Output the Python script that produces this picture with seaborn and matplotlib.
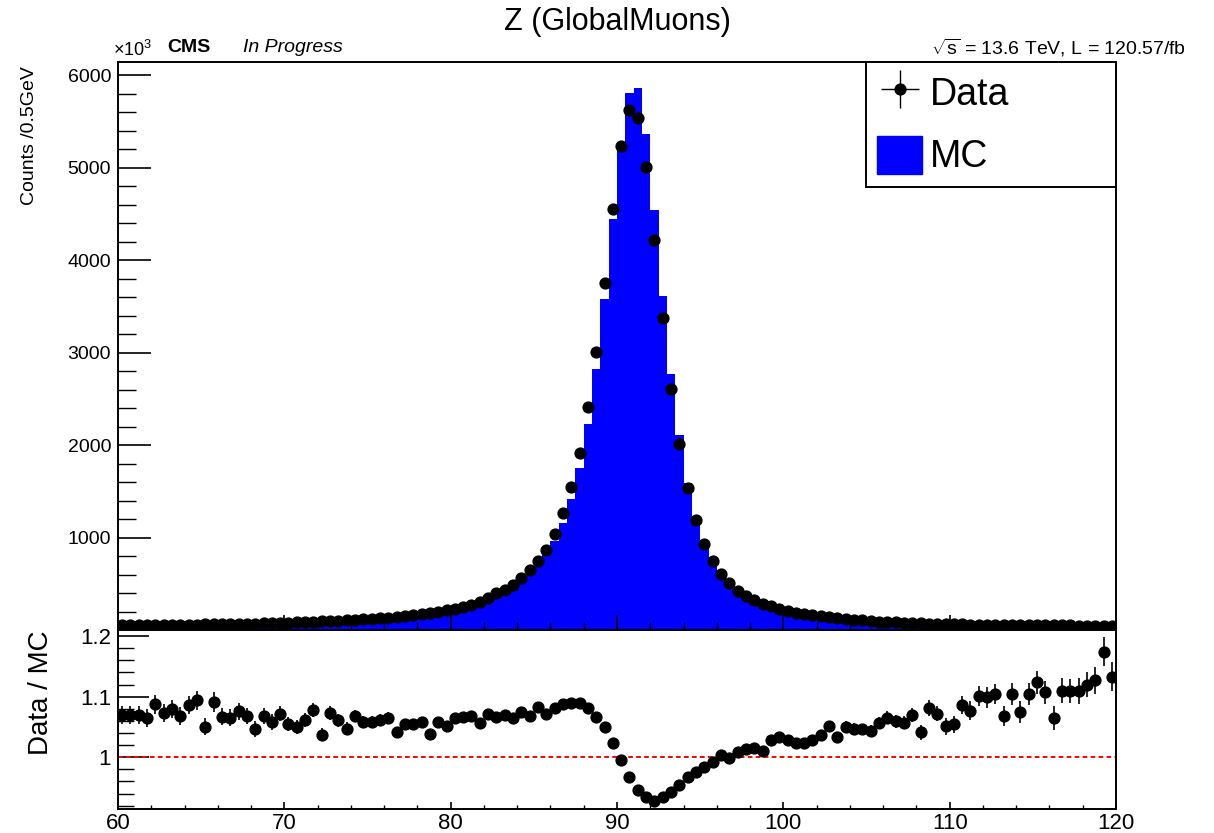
import numpy as np
import pandas as pd
import seaborn as sns
from matplotlib import pyplot as plt
from matplotlib.patches import Patch
from matplotlib.ticker import MultipleLocator, FuncFormatter

# dimuon mass, 0.5 GeV bins from 60 to 120 (counts in units of 10^3)
mass_lo = 60.0
mass_hi = 120.0
bin_width = 0.5

data_counts = [
    57, 57, 57, 57, 57, 57, 57, 58, 58, 59,
    60, 61, 62, 64, 66, 68, 70, 72, 75, 78,
    81, 84, 87, 90, 93, 97, 101, 106, 111, 116,
    121, 128, 135, 142, 150, 160, 172, 185, 198, 212,
    228, 248, 272, 300, 350, 395, 435, 490, 565, 650,
    750, 870, 1035, 1260, 1545, 1910, 2410, 3010, 3755, 4550,
    5230, 5620, 5535, 5010, 4215, 3370, 2605, 2010, 1540, 1185,
    935, 750, 610, 505, 420, 365, 320, 285, 255, 228,
    205, 187, 172, 158, 146, 136, 126, 118, 110, 103,
    97, 91, 86, 82, 78, 75, 72, 69, 67, 65,
    63, 61, 59, 58, 57, 56, 55, 54, 53, 52,
    51, 50, 50, 49, 49, 48, 48, 47, 47, 47,
]

mc_counts = [
    53.3, 53.3, 53.3, 53.6, 52.4, 53.1, 52.8, 54.3, 53.4, 53.9,
    57.1, 55.9, 58.1, 60.1, 61.3, 63.7, 66.9, 67.4, 70.9, 72.8,
    76.8, 80.0, 82.0, 83.5, 89.7, 90.4, 95.2, 101.2, 103.9, 109.6,
    114.4, 120.5, 126.8, 136.4, 142.3, 151.8, 162.6, 178.1, 187.1, 201.5,
    214.1, 232.6, 254.7, 284.1, 326.5, 370.5, 406.9, 460.1, 525.6, 608.6,
    692.5, 811.6, 957.4, 1159.2, 1417.4, 1752.3, 2229.4, 2823.6, 3579.6, 4443.4,
    5240, 5811.8, 5857, 5364, 4542, 3608, 2765, 2107, 1593, 1215,
    951, 756, 608, 506, 416, 360, 315, 282, 248, 221,
    199, 183, 168, 154, 141, 129.4, 122, 112.4, 105.1, 98.5,
    93.0, 86.1, 80.8, 77.4, 73.8, 70.1, 69.2, 63.8, 62.5, 61.8,
    59.8, 56.2, 54.8, 52.7, 51.9, 50.7, 51.5, 48.9, 49.3, 47.1,
    45.4, 45.2, 46.9, 44.1, 44.2, 43.3, 42.9, 41.7, 40.0, 41.5,
]

ratio = [
    1.070, 1.070, 1.070, 1.064, 1.087, 1.073, 1.080, 1.068, 1.086, 1.094,
    1.050, 1.091, 1.067, 1.065, 1.076, 1.068, 1.047, 1.068, 1.058, 1.072,
    1.055, 1.050, 1.061, 1.078, 1.037, 1.073, 1.061, 1.047, 1.068, 1.058,
    1.058, 1.062, 1.065, 1.041, 1.054, 1.054, 1.058, 1.039, 1.058, 1.052,
    1.065, 1.066, 1.068, 1.056, 1.072, 1.066, 1.069, 1.065, 1.075, 1.068,
    1.083, 1.072, 1.081, 1.087, 1.090, 1.090, 1.081, 1.066, 1.049, 1.024,
    0.996, 0.967, 0.945, 0.934, 0.928, 0.934, 0.942, 0.954, 0.967, 0.975,
    0.983, 0.992, 1.003, 0.998, 1.009, 1.013, 1.015, 1.011, 1.028, 1.033,
    1.028, 1.024, 1.024, 1.028, 1.036, 1.051, 1.033, 1.050, 1.047, 1.046,
    1.043, 1.057, 1.065, 1.059, 1.057, 1.070, 1.041, 1.081, 1.072, 1.051,
    1.054, 1.086, 1.077, 1.101, 1.099, 1.104, 1.068, 1.104, 1.075, 1.104,
    1.124, 1.107, 1.065, 1.110, 1.109, 1.109, 1.120, 1.127, 1.174, 1.133,
]

ratio_err = [
    0.015, 0.015, 0.015, 0.015, 0.015, 0.015, 0.015, 0.015, 0.015, 0.016,
    0.014, 0.016, 0.014, 0.014, 0.014, 0.013, 0.013, 0.013, 0.013, 0.013,
    0.012, 0.012, 0.012, 0.012, 0.011, 0.011, 0.011, 0.011, 0.010, 0.010,
    0.010, 0.010, 0.009, 0.009, 0.009, 0.008, 0.008, 0.008, 0.007, 0.007,
    0.007, 0.006, 0.006, 0.006, 0.005, 0.005, 0.005, 0.004, 0.004, 0.004,
    0.004, 0.003, 0.003, 0.003, 0.003, 0.003, 0.003, 0.003, 0.003, 0.003,
    0.003, 0.003, 0.003, 0.003, 0.003, 0.003, 0.003, 0.003, 0.003, 0.003,
    0.004, 0.004, 0.004, 0.004, 0.005, 0.005, 0.005, 0.006, 0.006, 0.006,
    0.006, 0.007, 0.007, 0.007, 0.008, 0.008, 0.008, 0.009, 0.009, 0.009,
    0.010, 0.010, 0.011, 0.011, 0.011, 0.012, 0.012, 0.013, 0.013, 0.014,
    0.014, 0.015, 0.016, 0.016, 0.017, 0.017, 0.017, 0.018, 0.018, 0.018,
    0.019, 0.019, 0.020, 0.020, 0.020, 0.021, 0.021, 0.022, 0.024, 0.024,
]

title = 'Z (GlobalMuons)'
lumi_text = r'$\sqrt{\mathrm{s}}$ = 13.6 TeV, L = 120.57/fb'


def main():
    sns.set_style('ticks')
    plt.rcParams['font.family'] = ['Liberation Sans', 'DejaVu Sans']
    plt.rcParams['mathtext.fontset'] = 'custom'
    plt.rcParams['mathtext.rm'] = 'Liberation Sans'
    plt.rcParams['mathtext.it'] = 'Liberation Sans:italic'
    plt.rcParams['axes.linewidth'] = 1.4
    for key in ['text.color', 'axes.labelcolor', 'xtick.color', 'ytick.color', 'axes.edgecolor']:
        plt.rcParams[key] = 'black'

    edges = np.arange(mass_lo, mass_hi + bin_width / 2, bin_width)
    centers = edges[:-1] + bin_width / 2
    df = pd.DataFrame({'mass': centers, 'mc': mc_counts, 'data': data_counts,
                       'ratio': ratio, 'ratio_err': ratio_err})

    fig = plt.figure(figsize=(12.14, 8.33), dpi=100)
    ax1 = fig.add_axes([0.0972, 0.2437, 0.8221, 0.6819])
    ax2 = fig.add_axes([0.0972, 0.0288, 0.8221, 0.2149], sharex=ax1)

    # MC as filled histogram
    sns.histplot(data=df, x='mass', weights='mc', binwidth=bin_width, binrange=(mass_lo, mass_hi),
                 element='step', fill=True, color='#0000ff', alpha=1, linewidth=0, ax=ax1)
    data_h = ax1.errorbar(df['mass'], df['data'], xerr=bin_width / 2, yerr=0, fmt='o',
                          color='black', ms=7.8, elinewidth=1.0, capsize=0, zorder=3)

    ax1.set_xlim(mass_lo, mass_hi)
    ax1.set_ylim(0, 6142)
    ax1.set_ylabel('')
    ax1.set_xlabel('')
    ax1.xaxis.set_major_locator(MultipleLocator(10))
    ax1.xaxis.set_minor_locator(MultipleLocator(2))
    ax1.yaxis.set_major_locator(MultipleLocator(1000))
    ax1.yaxis.set_minor_locator(MultipleLocator(200))
    ax1.yaxis.set_major_formatter(FuncFormatter(lambda v, p: '' if v == 0 else f'{v:.0f}'))
    ax1.tick_params(axis='x', which='major', direction='in', length=11, width=1.2, labelbottom=False)
    ax1.tick_params(axis='x', which='minor', direction='in', length=6, width=1.0)
    ax1.tick_params(axis='y', which='major', direction='in', length=24, width=1.2, labelsize=14, pad=5)
    ax1.tick_params(axis='y', which='minor', direction='in', length=13, width=1.0)
    for s in ax1.spines.values():
        s.set_visible(True)
        s.set_color('black')
    ax1.set_axisbelow(False)

    leg = ax1.legend([data_h, Patch(facecolor='#0000ff', edgecolor='#0000ff')], ['Data', 'MC'],
                     loc='upper left', bbox_to_anchor=(0.7495, 1.0, 0.2505, 0.0), mode='expand',
                     borderaxespad=0, fontsize=27, frameon=True, fancybox=False, framealpha=1,
                     edgecolor='black', borderpad=0.3, handlelength=1.2, handleheight=1.2,
                     handletextpad=0.2, labelspacing=0.6)
    leg.get_frame().set_linewidth(1.4)

    # ratio panel
    ax2.errorbar(df['mass'], df['ratio'], xerr=bin_width / 2, yerr=df['ratio_err'], fmt='o',
                 color='black', ms=7.8, elinewidth=1.2, capsize=0, zorder=3)
    ax2.axhline(1.0, color='red', ls='--', lw=1.4, dashes=(2.4, 1.7), zorder=2)
    ax2.set_xlim(mass_lo, mass_hi)
    ax2.set_ylim(0.9144, 1.210)
    ax2.xaxis.set_major_locator(MultipleLocator(10))
    ax2.xaxis.set_minor_locator(MultipleLocator(2))
    ax2.yaxis.set_major_locator(MultipleLocator(0.1))
    ax2.yaxis.set_minor_locator(MultipleLocator(0.02))
    ax2.yaxis.set_major_formatter(FuncFormatter(lambda v, p: f'{v:g}'))
    ax2.tick_params(axis='x', which='major', direction='in', length=5, width=1.2, labelsize=16, pad=3)
    ax2.tick_params(axis='x', which='minor', direction='in', length=3, width=1.0)
    ax2.tick_params(axis='y', which='major', direction='in', length=22, width=1.2, labelsize=16, pad=5)
    ax2.tick_params(axis='y', which='minor', direction='in', length=11.5, width=1.0)
    for s in ax2.spines.values():
        s.set_color('black')

    # texts
    fig.text(617 / 1214, 1 - 22 / 833, title, ha='center', va='center', fontsize=22)
    fig.text(113 / 1214, 1 - 50 / 833, r'$\times$10$^{3}$', ha='left', va='center', fontsize=13)
    fig.text(167 / 1214, 1 - 48 / 833, 'CMS', ha='left', va='center', fontsize=14, fontweight='bold')
    fig.text(243 / 1214, 1 - 48 / 833, 'In Progress', ha='left', va='center', fontsize=14, style='italic')
    fig.text(1186 / 1214, 1 - 48 / 833, lumi_text, ha='right', va='center', fontsize=14)
    fig.text(30 / 1214, 1 - 66 / 833, 'Counts /0.5GeV', rotation=90, ha='center', va='top', fontsize=14)
    fig.text(41 / 1214, 1 - 630 / 833, 'Data / MC', rotation=90, ha='center', va='top', fontsize=20)

    fig.savefig('out.png', dpi=100)


if __name__ == '__main__':
    main()
